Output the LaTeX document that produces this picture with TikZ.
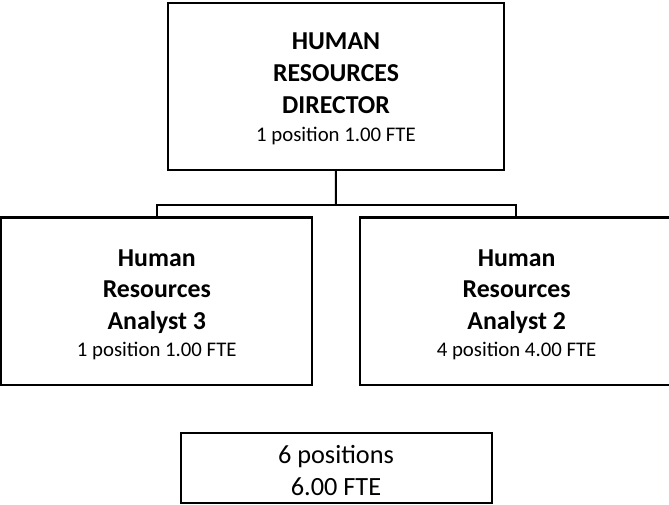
\documentclass[tikz,border=0pt]{standalone}
\usepackage{fontspec}
\setmainfont{Carlito}
\begin{document}
\begin{tikzpicture}[x=1pt,y=-1pt,
  box/.style={draw=black, line width=2pt, inner sep=0pt, outer sep=0pt, fill=white},
  title/.style={font=\fontsize{25.8}{30}\selectfont\bfseries, anchor=base, inner sep=0pt},
  count/.style={font=\fontsize{20.8}{24}\selectfont, anchor=base, inner sep=0pt},
  total/.style={font=\fontsize{26.3}{30}\selectfont, anchor=base, inner sep=0pt},
  link/.style={draw=black, line width=2pt}]
\useasboundingbox (0,0) rectangle (669,505);

% boxes
\node[box, minimum width=335.5pt, minimum height=166.5pt] (dir) at (335.75,86.5) {};
\node[box, minimum width=311pt, minimum height=167.2pt] (an3) at (156.5,301.1) {};
\node[box, minimum width=312pt, minimum height=167.2pt] (an2) at (516,301.1) {};
\node[box, minimum width=311.3pt, minimum height=70.6pt] (tot) at (336.35,468) {};

% reporting lines
\coordinate (bus) at (336,205);
\draw[link] (dir.south) -- (bus);
\draw[link] (an3.north) |- (bus) -| (an2.north);

% director
\node[title] (d1) at (336,50) {HUMAN};
\node[title] (d2) at (336,81.7) {RESOURCES};
\node[title] (d3) at (336,114) {DIRECTOR};
\node[count] (d4) at (336,141.5) {1 position 1.00 FTE};

% analyst 3
\node[title] (a1) at (156.8,266) {Human};
\node[title] (a2) at (156.8,297.7) {Resources};
\node[title] (a3) at (156.8,329) {Analyst 3};
\node[count] (a4) at (156.8,356.7) {1 position 1.00 FTE};

% analyst 2
\node[title] (b1) at (516.6,266) {Human};
\node[title] (b2) at (516.6,297.7) {Resources};
\node[title] (b3) at (516.6,329) {Analyst 2};
\node[count] (b4) at (516.6,356.7) {4 position 4.00 FTE};

% totals
\node[total] (t1) at (336,463.3) {6 positions};
\node[total] (t2) at (336,495) {6.00 FTE};
\end{tikzpicture}
\end{document}
